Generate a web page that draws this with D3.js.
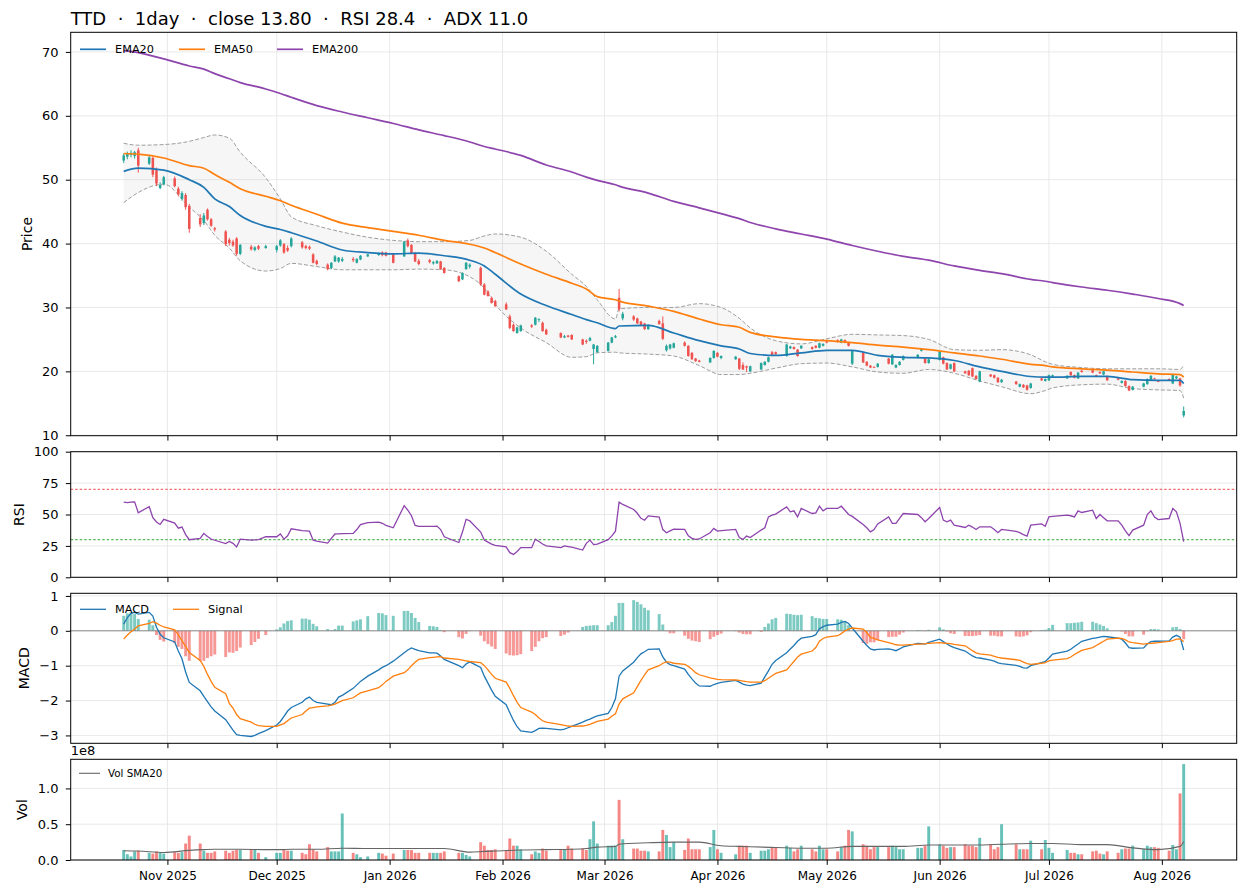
<!DOCTYPE html>
<html>
<head>
<meta charset="utf-8">
<script src="https://cdn.jsdelivr.net/npm/d3@7"></script>
<style>
    body { margin: 0; background: #ffffff; }
</style>
</head>
<body>
<div id="chart"></div>
<script>
// ---------- daily bars ----------
const dates = [
    "2025-10-20","2025-10-21","2025-10-22","2025-10-23","2025-10-24","2025-10-27","2025-10-28","2025-10-29","2025-10-30","2025-10-31",
    "2025-11-03","2025-11-04","2025-11-05","2025-11-06","2025-11-07","2025-11-10","2025-11-11","2025-11-12","2025-11-13","2025-11-14",
    "2025-11-17","2025-11-18","2025-11-19","2025-11-20","2025-11-21","2025-11-24","2025-11-25","2025-11-26","2025-11-28",
    "2025-12-01","2025-12-02","2025-12-03","2025-12-04","2025-12-05","2025-12-08","2025-12-09","2025-12-10","2025-12-11","2025-12-12",
    "2025-12-15","2025-12-16","2025-12-17","2025-12-18","2025-12-19","2025-12-22","2025-12-23","2025-12-24","2025-12-26","2025-12-29","2025-12-30","2025-12-31",
    "2026-01-02","2026-01-05","2026-01-06","2026-01-07","2026-01-08","2026-01-09","2026-01-12","2026-01-13","2026-01-14","2026-01-15",
    "2026-01-16","2026-01-20","2026-01-21","2026-01-22","2026-01-23","2026-01-26","2026-01-27","2026-01-28","2026-01-29","2026-01-30",
    "2026-02-02","2026-02-03","2026-02-04","2026-02-05","2026-02-06","2026-02-09","2026-02-10","2026-02-11","2026-02-12","2026-02-13",
    "2026-02-17","2026-02-18","2026-02-19","2026-02-20","2026-02-23","2026-02-24","2026-02-25","2026-02-26","2026-02-27",
    "2026-03-02","2026-03-03","2026-03-04","2026-03-05","2026-03-06","2026-03-09","2026-03-10","2026-03-11","2026-03-12","2026-03-13",
    "2026-03-16","2026-03-17","2026-03-18","2026-03-19","2026-03-20","2026-03-23","2026-03-24","2026-03-25","2026-03-26","2026-03-27","2026-03-30","2026-03-31",
    "2026-04-01","2026-04-02","2026-04-06","2026-04-07","2026-04-08","2026-04-09","2026-04-10","2026-04-13","2026-04-14","2026-04-15",
    "2026-04-16","2026-04-17","2026-04-20","2026-04-21","2026-04-22","2026-04-23","2026-04-24","2026-04-27","2026-04-28","2026-04-29","2026-04-30",
    "2026-05-01","2026-05-04","2026-05-05","2026-05-06","2026-05-07","2026-05-08","2026-05-11","2026-05-12","2026-05-13","2026-05-14",
    "2026-05-15","2026-05-18","2026-05-19","2026-05-20","2026-05-21","2026-05-22","2026-05-26","2026-05-27","2026-05-28","2026-05-29",
    "2026-06-01","2026-06-02","2026-06-03","2026-06-04","2026-06-05","2026-06-08","2026-06-09","2026-06-10","2026-06-11","2026-06-12",
    "2026-06-15","2026-06-16","2026-06-17","2026-06-18","2026-06-22","2026-06-23","2026-06-24","2026-06-25","2026-06-26","2026-06-29","2026-06-30",
    "2026-07-01","2026-07-02","2026-07-06","2026-07-07","2026-07-08","2026-07-09","2026-07-10","2026-07-13","2026-07-14","2026-07-15",
    "2026-07-16","2026-07-17","2026-07-20","2026-07-21","2026-07-22","2026-07-23","2026-07-24","2026-07-27","2026-07-28","2026-07-29","2026-07-30","2026-07-31",
    "2026-08-03","2026-08-04","2026-08-05","2026-08-06","2026-08-07"
];

const opens = [
    53.0,53.6,53.9,53.7,54.6,52.5,53.4,51.5,48.7,49.3,
    50.2,48.6,47.0,47.6,45.9,44.0,43.2,45.3,43.8,42.4,41.9,40.6,40.3,40.8,38.4,39.5,39.0,39.6,39.3,
    39.0,39.7,39.9,39.3,39.6,40.2,39.6,39.5,38.3,37.3,36.7,36.2,37.2,37.2,37.3,37.6,37.0,37.5,38.0,38.2,38.6,38.6,
    38.3,38.0,40.5,39.8,38.5,37.3,37.4,36.9,36.9,37.2,36.2,34.9,34.4,36.0,36.4,36.2,33.6,32.5,31.5,31.0,
    30.5,28.6,27.3,26.0,26.3,27.2,27.3,28.1,27.6,26.5,26.0,25.3,25.6,25.7,25.0,24.8,24.8,23.5,23.0,
    23.2,24.5,25.3,31.5,28.3,28.6,28.3,27.8,27.5,26.6,27.9,27.5,23.3,23.6,23.7,24.5,24.0,22.9,22.0,21.7,21.4,22.1,
    22.9,22.1,21.9,22.0,21.0,20.8,20.0,20.3,21.0,21.5,23.0,23.0,22.4,23.6,23.8,23.4,23.6,23.8,24.0,23.7,24.0,
    24.7,24.9,24.5,24.9,24.5,21.2,22.9,21.5,20.9,20.7,20.7,22.0,21.1,20.6,21.0,21.8,22.1,23.2,22.0,21.3,
    21.8,22.2,21.3,20.4,21.3,20.0,20.1,20.5,19.3,18.4,19.5,19.4,19.0,18.3,18.4,17.6,17.9,17.8,17.4,18.9,18.5,
    18.6,19.2,18.9,19.9,19.4,18.9,20.1,20.2,19.4,19.9,19.5,19.2,18.9,18.2,18.5,17.7,17.1,17.6,18.0,18.6,18.9,18.5,
    18.8,18.1,18.9,18.9,13.1
];

const highs = [
    54.1,54.4,54.6,54.5,55.0,53.8,53.6,51.9,49.6,50.6,
    50.5,48.9,48.2,47.9,46.2,44.6,44.8,45.5,44.0,42.6,42.1,40.9,40.6,41.0,39.9,39.8,39.6,39.8,39.8,
    39.8,40.7,40.1,39.7,41.0,40.4,39.8,39.7,38.5,37.5,36.9,37.1,38.2,37.9,37.9,37.9,37.7,38.2,38.4,38.6,38.8,38.7,
    38.5,40.4,40.8,39.9,38.7,37.6,37.6,37.3,37.4,37.3,36.3,35.0,35.5,37.1,36.9,36.4,33.8,32.7,31.7,31.2,
    30.8,28.9,27.5,27.0,27.3,27.4,28.5,28.3,27.8,26.7,26.1,25.7,25.7,25.8,25.1,25.0,25.4,24.3,24.1,
    24.6,25.4,25.7,32.9,29.3,28.8,28.4,27.9,27.6,27.4,28.1,28.6,24.2,24.3,24.5,24.7,24.1,23.0,22.1,21.8,22.2,23.3,
    23.0,22.5,22.4,22.1,21.4,20.9,20.9,21.4,21.6,22.3,23.2,23.1,24.3,24.0,23.9,23.5,24.1,23.9,24.1,24.5,24.4,
    24.8,25.0,25.1,25.0,24.6,23.3,23.0,21.6,21.0,20.8,21.3,22.1,22.7,21.1,21.6,22.5,22.7,23.6,22.1,22.0,
    23.2,22.3,21.4,21.2,21.4,20.1,20.2,20.6,19.4,20.1,19.6,19.5,19.1,18.8,18.5,18.1,18.0,17.9,18.2,19.0,18.9,
    19.5,19.5,19.4,20.0,19.5,19.9,20.2,20.3,19.5,20.0,20.1,19.3,19.0,18.6,18.6,17.8,17.7,18.2,18.9,19.4,19.0,18.6,
    18.9,19.6,19.3,19.0,14.5
];

const lows = [
    52.6,53.2,53.5,53.3,51.1,52.3,50.4,49.0,48.5,49.1,
    48.8,47.4,46.7,45.3,41.7,42.6,42.9,43.6,42.6,41.9,39.6,39.7,39.5,38.1,38.2,38.9,38.8,39.0,39.2,
    38.6,39.5,38.4,38.7,39.4,39.2,39.1,39.0,36.9,36.6,35.8,36.0,37.1,37.0,37.1,37.1,36.9,37.4,37.9,38.1,38.0,38.0,
    36.9,37.9,39.4,38.4,37.1,36.6,36.9,36.7,36.8,35.9,35.3,34.0,34.3,35.9,36.1,33.4,31.9,31.7,30.6,30.1,
    29.6,26.6,26.2,25.9,26.2,26.8,27.2,27.7,26.2,25.7,25.2,25.2,25.3,24.9,24.1,24.3,24.7,21.1,22.9,
    23.1,24.4,25.2,29.4,28.0,27.9,27.4,27.1,26.5,26.5,27.3,24.9,23.1,23.4,23.6,23.9,22.3,21.8,21.5,21.4,21.3,22.0,
    22.2,21.9,21.8,20.2,20.2,19.9,19.9,20.2,20.9,21.4,22.5,22.6,22.3,23.5,23.4,22.3,23.5,23.4,23.6,23.6,23.9,
    24.4,24.5,24.4,24.4,23.9,21.0,21.3,20.8,20.5,20.5,20.6,21.1,21.0,20.5,20.9,21.7,22.0,23.1,21.2,21.2,
    21.7,21.1,20.2,20.3,19.9,19.6,19.3,19.1,18.7,18.3,19.1,18.9,18.2,18.2,17.9,17.5,17.4,17.0,17.3,18.5,18.4,
    18.5,19.1,18.8,19.3,18.9,18.8,19.8,19.7,19.1,19.6,19.4,18.5,18.6,18.1,17.6,16.9,17.0,17.5,17.9,18.5,18.7,18.3,
    18.5,18.0,18.8,17.6,12.8
];

const closes = [
    53.8,54.1,54.2,54.3,52.2,53.5,50.8,49.4,49.2,50.4,
    49.0,47.7,47.9,45.7,42.3,43.0,44.4,43.8,42.8,42.2,39.9,40.1,39.7,38.4,39.8,39.1,39.4,39.2,39.6,
    39.6,40.5,38.6,38.9,40.8,39.4,39.3,39.2,37.0,36.8,36.0,37.0,38.0,37.8,37.6,37.4,37.6,38.1,38.3,38.5,38.2,38.1,
    37.0,40.3,39.6,38.5,37.2,36.8,37.1,37.1,37.3,36.0,35.4,34.1,35.4,37.0,36.7,33.6,32.0,31.8,30.7,30.2,
    29.7,26.8,26.3,26.9,27.2,27.0,28.4,28.2,26.3,25.8,25.3,25.5,25.4,25.0,24.2,24.6,25.2,24.2,24.0,
    24.5,25.3,25.5,29.7,29.0,28.1,27.5,27.2,26.6,27.2,27.4,25.1,24.0,24.2,24.4,24.0,22.4,21.9,21.6,21.5,22.1,23.2,
    22.3,22.4,22.3,20.4,20.3,20.6,20.8,21.3,21.5,22.2,22.6,22.7,24.2,23.9,23.5,22.4,24.0,23.5,23.7,24.4,24.3,
    24.5,24.6,25.0,24.5,24.0,23.2,21.4,20.9,20.6,20.6,21.2,21.2,22.6,21.0,21.5,22.4,22.6,23.5,21.3,21.9,
    23.1,21.2,20.3,21.1,20.0,19.7,19.4,19.2,18.8,20.0,19.2,19.0,18.3,18.7,18.0,18.0,17.5,17.1,18.1,18.6,18.8,
    19.4,19.4,19.3,19.4,19.0,19.8,19.9,19.8,19.2,19.7,20.0,18.6,18.7,18.5,17.7,17.0,17.6,18.1,18.8,19.3,18.8,18.4,
    18.6,19.5,19.2,17.8,13.8
];

// volume in millions of shares
const volumes = [
    14,8,5,12,13,10,9,12,10,9,
    11,10,11,23,34,23,13,10,10,12,13,10,13,14,14,14,14,10,4,
    10,10,15,13,13,10,8,22,15,12,18,12,12,12,65,10,8,4,5,10,9,6,
    9,14,14,14,10,10,10,10,10,10,12,10,10,7,5,25,20,14,14,15,
    13,30,20,20,15,8,12,10,16,13,14,14,20,16,16,14,29,54,23,
    20,20,20,84,29,16,16,13,13,12,12,42,35,18,25,14,30,15,15,15,18,42,
    15,10,8,20,20,20,10,13,13,15,18,18,20,17,12,15,20,15,12,20,15,
    15,12,18,20,42,40,22,20,15,18,18,18,20,18,15,15,17,17,20,47,
    22,20,17,18,18,22,20,20,18,31,22,15,18,50,22,15,15,15,27,15,28,
    17,10,14,10,10,8,8,12,13,9,8,12,10,15,16,16,20,15,20,18,18,17,
    13,21,15,93,134
];

const rsi = [
    59.8,59.5,59.9,60.1,51.4,56.3,47.5,44.0,42.1,46.2,
    43.2,39.1,40.0,34.0,29.9,31.0,35.0,32.5,30.5,29.5,26.9,28.5,27.0,24.2,30.4,29.6,29.8,30.0,32.3,
    32.3,34.5,30.4,33.0,38.6,37.2,37.0,36.7,29.6,28.8,27.2,31.0,34.5,34.6,34.7,35.0,38.0,42.0,43.5,44.0,43.0,41.3,
    39.4,57.0,53.5,49.0,41.3,40.5,40.5,40.6,40.8,38.0,32.3,27.7,36.0,46.2,45.0,36.0,29.6,28.0,26.4,25.5,
    24.2,19.6,18.2,20.5,23.6,23.6,30.4,28.5,26.5,25.0,23.6,25.0,24.5,24.0,21.7,27.0,29.6,26.0,26.5,
    30.0,33.0,36.7,59.8,58.0,54.0,51.0,47.0,45.4,48.9,48.0,38.0,35.5,37.0,38.4,38.1,33.1,31.0,30.2,30.5,35.5,38.9,
    36.8,37.2,38.1,31.7,30.2,32.8,31.7,37.6,39.4,48.1,49.5,50.3,56.1,52.1,52.9,48.1,54.8,50.8,51.3,56.6,52.9,
    54.8,54.8,56.6,53.4,50.0,48.5,42.0,39.4,36.2,38.0,42.5,48.1,42.9,42.9,47.0,50.8,50.0,47.5,44.2,46.8,
    55.6,45.5,44.2,45.5,41.5,39.7,41.5,40.0,38.1,40.2,40.2,38.0,35.5,38.1,36.5,35.5,34.0,32.8,41.5,42.5,40.7,
    48.1,48.5,49.5,49.0,48.1,52.9,51.6,53.4,46.8,50.0,47.5,45.0,45.0,41.5,37.0,33.1,37.6,41.5,50.0,52.9,48.0,46.0,
    46.8,54.8,52.1,42.9,28.4
];

const macd = [
    0.19,0.38,0.50,0.53,0.48,0.53,0.42,0.10,-0.10,-0.20,
    -0.32,-0.58,-0.80,-1.18,-1.48,-1.72,-1.88,-2.03,-2.18,-2.30,-2.55,-2.70,-2.85,-2.98,-3.00,-3.03,-3.00,-2.95,-2.86,
    -2.70,-2.60,-2.45,-2.30,-2.20,-2.05,-1.95,-1.90,-2.00,-2.05,-2.10,-2.12,-2.05,-1.90,-1.85,-1.65,-1.55,-1.45,-1.30,-1.12,-1.05,-1.00,
    -0.87,-0.63,-0.55,-0.49,-0.53,-0.57,-0.63,-0.63,-0.64,-0.72,-0.82,-1.00,-1.06,-0.95,-0.89,-1.05,-1.30,-1.50,-1.70,-1.88,
    -2.12,-2.35,-2.57,-2.75,-2.87,-2.91,-2.86,-2.80,-2.79,-2.80,-2.84,-2.82,-2.78,-2.74,-2.62,-2.57,-2.53,-2.48,-2.44,
    -2.37,-2.20,-1.95,-1.30,-1.15,-0.90,-0.77,-0.66,-0.60,-0.53,-0.52,-0.75,-0.90,-0.97,-1.00,-1.10,-1.25,-1.38,-1.50,-1.58,-1.59,-1.54,
    -1.51,-1.48,-1.42,-1.47,-1.53,-1.56,-1.57,-1.50,-1.32,-1.15,-0.96,-0.85,-0.63,-0.52,-0.42,-0.30,-0.21,-0.16,-0.11,0.06,0.12,
    0.16,0.19,0.24,0.27,0.21,0.08,-0.30,-0.42,-0.52,-0.55,-0.53,-0.52,-0.54,-0.57,-0.52,-0.46,-0.36,-0.37,-0.38,-0.33,
    -0.24,-0.31,-0.38,-0.44,-0.48,-0.58,-0.65,-0.72,-0.77,-0.78,-0.84,-0.87,-0.92,-0.94,-0.99,-1.02,-1.06,-1.07,-1.00,-0.91,-0.88,
    -0.78,-0.67,-0.58,-0.53,-0.45,-0.38,-0.30,-0.22,-0.20,-0.18,-0.16,-0.17,-0.21,-0.24,-0.35,-0.48,-0.50,-0.49,-0.38,-0.31,-0.30,-0.30,
    -0.29,-0.18,-0.13,-0.18,-0.55
];

const macdSignal = [
    -0.24,-0.12,-0.03,0.05,0.14,0.21,0.26,0.22,0.16,0.11,
    0.03,-0.12,-0.28,-0.45,-0.62,-0.85,-1.02,-1.25,-1.45,-1.62,-1.80,-2.08,-2.22,-2.40,-2.52,-2.62,-2.68,-2.72,-2.74,
    -2.74,-2.70,-2.66,-2.58,-2.50,-2.40,-2.30,-2.22,-2.20,-2.18,-2.15,-2.13,-2.10,-2.05,-2.00,-1.92,-1.85,-1.78,-1.72,-1.63,-1.55,-1.45,
    -1.30,-1.20,-1.12,-1.00,-0.90,-0.82,-0.77,-0.76,-0.75,-0.74,-0.78,-0.82,-0.84,-0.86,-0.88,-0.91,-1.00,-1.12,-1.25,-1.36,
    -1.47,-1.65,-1.86,-2.05,-2.20,-2.33,-2.40,-2.50,-2.58,-2.62,-2.69,-2.71,-2.73,-2.74,-2.73,-2.71,-2.68,-2.64,-2.60,
    -2.53,-2.45,-2.38,-2.10,-1.95,-1.78,-1.60,-1.42,-1.26,-1.12,-1.00,-0.93,-0.89,-0.90,-0.93,-0.96,-1.02,-1.10,-1.20,-1.26,-1.35,-1.37,
    -1.39,-1.40,-1.41,-1.42,-1.44,-1.46,-1.47,-1.47,-1.43,-1.36,-1.29,-1.22,-1.12,-1.00,-0.88,-0.75,-0.67,-0.58,-0.48,-0.30,-0.22,
    -0.18,-0.14,-0.08,0.00,0.05,0.08,0.05,-0.05,-0.19,-0.22,-0.26,-0.34,-0.37,-0.40,-0.41,-0.41,-0.38,-0.38,-0.37,-0.36,
    -0.34,-0.35,-0.36,-0.37,-0.39,-0.43,-0.50,-0.57,-0.63,-0.66,-0.70,-0.73,-0.76,-0.78,-0.83,-0.85,-0.90,-0.94,-0.96,-0.93,-0.91,
    -0.86,-0.84,-0.80,-0.75,-0.68,-0.62,-0.56,-0.48,-0.42,-0.36,-0.30,-0.24,-0.21,-0.22,-0.26,-0.32,-0.34,-0.38,-0.37,-0.36,-0.35,-0.34,
    -0.30,-0.28,-0.24,-0.23,-0.31
];

const macdHist = [
    0.43,0.50,0.53,0.48,0.34,0.32,0.16,-0.12,-0.26,-0.31,
    -0.35,-0.46,-0.52,-0.73,-0.86,-0.87,-0.86,-0.78,-0.73,-0.68,-0.75,-0.62,-0.63,-0.58,-0.48,-0.41,-0.32,-0.23,-0.12,
    0.04,0.10,0.21,0.28,0.30,0.35,0.35,0.32,0.20,0.13,0.05,0.01,0.05,0.15,0.15,0.27,0.30,0.33,0.42,0.51,0.50,0.45,
    0.43,0.57,0.57,0.51,0.37,0.25,0.14,0.13,0.11,0.02,-0.04,-0.18,-0.22,-0.09,-0.01,-0.14,-0.30,-0.38,-0.45,-0.52,
    -0.65,-0.70,-0.71,-0.70,-0.67,-0.58,-0.46,-0.30,-0.21,-0.18,-0.15,-0.11,-0.05,0.00,0.11,0.14,0.15,0.16,0.16,
    0.16,0.25,0.43,0.80,0.80,0.88,0.83,0.76,0.66,0.59,0.48,0.18,-0.01,-0.07,-0.07,-0.14,-0.23,-0.28,-0.30,-0.32,-0.24,-0.17,
    -0.12,-0.08,-0.01,-0.05,-0.09,-0.10,-0.10,-0.03,0.11,0.21,0.33,0.37,0.49,0.48,0.46,0.45,0.46,0.42,0.37,0.36,0.34,
    0.34,0.33,0.32,0.27,0.16,0.00,-0.35,-0.37,-0.33,-0.33,-0.27,-0.18,-0.17,-0.17,-0.11,-0.05,0.02,0.01,-0.01,0.03,
    0.10,0.04,-0.02,-0.07,-0.09,-0.15,-0.15,-0.15,-0.14,-0.12,-0.14,-0.14,-0.16,-0.16,-0.16,-0.17,-0.16,-0.13,-0.04,0.02,0.03,
    0.08,0.17,0.22,0.22,0.23,0.24,0.26,0.26,0.22,0.18,0.14,0.07,0.00,-0.02,-0.09,-0.16,-0.16,-0.11,-0.01,0.05,0.05,0.04,
    0.01,0.10,0.11,0.05,-0.24
];

// ---------- smoother overlays, read about once a week ----------
const lineDates = [
    "2025-10-20","2025-10-24","2025-10-31","2025-11-07","2025-11-11","2025-11-14","2025-11-18","2025-11-21","2025-11-28",
    "2025-12-02","2025-12-05","2025-12-12","2025-12-19","2025-12-26",
    "2026-01-02","2026-01-09","2026-01-16","2026-01-23","2026-01-27","2026-01-30",
    "2026-02-06","2026-02-13","2026-02-20","2026-02-24","2026-02-27",
    "2026-03-04","2026-03-05","2026-03-13","2026-03-20","2026-03-27",
    "2026-04-02","2026-04-07","2026-04-10","2026-04-17","2026-04-24",
    "2026-05-01","2026-05-08","2026-05-15","2026-05-22","2026-05-29",
    "2026-06-05","2026-06-12","2026-06-18","2026-06-26","2026-06-30",
    "2026-07-02","2026-07-10","2026-07-17","2026-07-24","2026-07-31",
    "2026-08-06","2026-08-07"
];
const ema20 = [
    51.3,51.8,51.5,50.0,48.8,47.0,45.8,44.4,42.7, 42.2,41.7,40.4,39.0,38.6,
    38.4,38.5,38.1,37.4,36.5,35.2, 32.1,30.3,28.9,28.1,27.6, 26.7,27.1,27.2,26.0,24.8,
    24.0,23.5,22.8,22.5,22.9, 23.3,23.3,22.5,22.2,22.1, 21.7,20.7,20.0,19.2,19.1,
    19.1,19.2,19.2,18.7,18.6, 18.6,18.1
];
const ema50 = [
    54.1,54.0,53.4,52.2,51.8,50.8,49.6,48.6,47.4, 46.7,46.0,44.6,43.2,42.5,
    41.9,41.3,40.5,39.9,39.3,38.6, 36.8,35.2,33.8,32.9,31.7, 31.2,31.0,30.2,29.4,28.2,
    27.3,26.9,26.1,25.4,25.0, 24.8,24.5,24.1,23.8,23.4, 22.9,22.4,21.9,21.1,20.9,
    20.7,20.4,20.2,19.9,19.6, 19.5,19.1
];
const ema200 = [
    70.2,69.9,68.9,67.8,67.3,66.6,65.8,65.2,64.2, 63.5,62.9,61.6,60.6,59.7,
    58.8,57.8,56.9,55.9,55.2,54.8, 53.8,52.3,51.2,50.4,49.9, 49.2,49.0,47.9,46.6,45.6,
    44.7,43.9,43.3,42.3,41.5, 40.7,39.7,38.8,38.0,37.4, 36.5,35.8,35.3,34.4,34.1,
    33.9,33.2,32.7,32.1,31.4, 30.6,30.3
];
const bbUpper = [
    55.7,55.4,55.5,56.0,56.6,57.0,56.5,54.3,50.3, 47.0,44.2,42.8,41.8,41.0,
    40.5,40.3,40.3,40.5,41.2,41.5, 41.0,38.8,35.2,33.3,31.2, 28.2,29.8,30.0,30.0,30.6,
    30.0,28.3,26.8,24.8,24.3, 25.1,25.8,25.7,25.6,25.0, 23.4,23.3,23.4,22.6,21.5,
    21.1,20.6,20.4,20.4,20.4, 20.3,21.0
];
const bbLower = [
    46.4,48.0,49.3,45.7,43.6,41.3,39.3,37.3,35.7, 36.1,36.9,36.4,35.9,35.9,
    35.9,36.0,35.9,34.8,33.0,30.5, 26.8,24.5,22.2,22.3,22.9, 23.0,22.9,22.7,22.4,20.9,
    19.5,19.5,19.7,20.5,21.2, 21.3,20.7,19.9,19.7,20.3, 19.7,18.5,17.6,16.5,17.0,
    17.4,17.9,18.0,17.3,17.1, 17.0,15.8
];
// 20-day volume average, millions
const volSma20 = [
    13,12.5,10.5,13.5,14.5,15,15,15,14.5, 14.5,15,15,16.5,16,
    16,16,16,11,12,12.5, 14,14.5,15,16,18, 19,22,24,25,25,
    20,19,18.5,17.5,16.5, 16.5,19,19,19,21, 21,21,22,23,23,
    23,21.5,21.5,17,14.5, 19,26
];

// ---------- axis ticks ----------
const monthTicks = ["2025-11-01","2025-12-01","2026-01-01","2026-02-01","2026-03-01","2026-04-01",
                    "2026-05-01","2026-06-01","2026-07-01","2026-08-01"];
const priceTicks = [10, 20, 30, 40, 50, 60, 70];
const rsiTicks = [0, 25, 50, 75, 100];
const macdTicks = [-3, -2, -1, 0, 1];
const volTicks = [0, 0.5e8, 1e8];

const chartTitle = "TTD  \u00b7  1day  \u00b7  close 13.80  \u00b7  RSI 28.4  \u00b7  ADX 11.0";


class TechChart {
    constructor(parent_element) {
        this.parent_element = parent_element;
        this.initVis();
    }

    initVis() {
        this.width = 1247;
        this.height = 894;
        this.left = 70.7;
        this.right = 1236.7;
        this.up = "#26a69a";
        this.down = "#ef5350";

        // panel boxes, top to bottom
        this.panels = {
            price: {top: 32.3, bottom: 435.7},
            rsi:   {top: 451.7, bottom: 577.3},
            macd:  {top: 593.3, bottom: 743.3},
            vol:   {top: 759.3, bottom: 860}
        };

        // initialize svg
        this.svg = d3.select("#" + this.parent_element)
            .append("svg")
            .attr("width", this.width)
            .attr("height", this.height)
            .attr("font-family", "DejaVu Sans, sans-serif");

        this.wrangleData();
    }

    wrangleData() {
        const parse = d3.timeParse("%Y-%m-%d");

        this.bars = dates.map((d, i) => ({
            date: parse(d),
            open: opens[i], high: highs[i], low: lows[i], close: closes[i],
            volume: volumes[i] * 1e6,
            rsi: rsi[i], macd: macd[i], signal: macdSignal[i], hist: macdHist[i]
        }));

        this.lines = lineDates.map((d, i) => ({
            date: parse(d),
            ema20: ema20[i], ema50: ema50[i], ema200: ema200[i],
            upper: bbUpper[i], lower: bbLower[i],
            volSma: volSma20[i] * 1e6
        }));

        this.months = monthTicks.map(parse);

        this.updateVis();
    }

    updateVis() {
        // shared time scale with 5% padding like matplotlib
        const first = this.bars[0].date;
        const last = this.bars[this.bars.length - 1].date;
        const pad = (last - first) * 0.05;
        this.x = d3.scaleTime()
            .domain([new Date(+first - pad), new Date(+last + pad)])
            .range([this.left, this.right]);
        this.day = this.x(d3.timeDay.offset(first, 1)) - this.x(first);

        // title
        this.svg.append("text")
            .attr("x", this.left)
            .attr("y", 25)
            .attr("font-size", "18px")
            .attr("fill", "#000")
            .style("white-space", "pre")
            .text(chartTitle);

        this.drawPrice();
        this.drawRsi();
        this.drawMacd();
        this.drawVolume();
    }

    // grid behind a panel
    drawGrid(p, y, ticks) {
        const g = this.svg.append("g").attr("class", "grid");
        g.selectAll(".vg").data(this.months).enter().append("line")
            .attr("x1", d => this.x(d)).attr("x2", d => this.x(d))
            .attr("y1", p.top).attr("y2", p.bottom)
            .attr("stroke", "#e3e3e3").attr("stroke-width", 0.8);
        g.selectAll(".hg").data(ticks).enter().append("line")
            .attr("x1", this.left).attr("x2", this.right)
            .attr("y1", d => y(d)).attr("y2", d => y(d))
            .attr("stroke", "#e3e3e3").attr("stroke-width", 0.8);
    }

    // frame, ticks and y label on top of a panel
    drawFrame(p, y, ticks, fmt, label, labelX, showDates) {
        this.svg.append("rect")
            .attr("x", this.left).attr("y", p.top)
            .attr("width", this.right - this.left)
            .attr("height", p.bottom - p.top)
            .attr("fill", "none")
            .attr("stroke", "#000")
            .attr("stroke-width", 1);

        const yAxis = this.svg.append("g")
            .attr("transform", "translate(" + this.left + ",0)")
            .call(d3.axisLeft(y).tickValues(ticks).tickFormat(fmt).tickSize(4.9).tickPadding(7.3));
        yAxis.select(".domain").remove();
        yAxis.attr("font-family", null).attr("font-size", null);
        yAxis.selectAll("text").attr("font-size", "13px").attr("fill", "#000");

        const xAxis = this.svg.append("g")
            .attr("transform", "translate(0," + p.bottom + ")")
            .call(d3.axisBottom(this.x).tickValues(this.months).tickSize(4.9)
                .tickFormat(showDates ? d3.timeFormat("%b %Y") : ""));
        xAxis.select(".domain").remove();
        xAxis.attr("font-family", null).attr("font-size", null);
        xAxis.selectAll("text")
            .attr("font-size", "12px")
            .attr("fill", "#000")
            .attr("y", 20)
            .attr("dy", null);

        this.svg.append("text")
            .attr("transform", "translate(" + labelX + "," + ((p.top + p.bottom) / 2) + ") rotate(-90)")
            .attr("text-anchor", "middle")
            .attr("font-size", "14px")
            .attr("fill", "#000")
            .text(label);
    }

    legend(items, y0, fontSize, lineLen) {
        const g = this.svg.append("g");
        items.forEach(it => {
            g.append("line")
                .attr("x1", it.x).attr("x2", it.x + lineLen)
                .attr("y1", y0).attr("y2", y0)
                .attr("stroke", it.color).attr("stroke-width", it.width || 1.7);
            g.append("text")
                .attr("x", it.x + lineLen + (it.gap || 9))
                .attr("y", y0)
                .attr("dy", "0.35em")
                .attr("font-size", fontSize)
                .attr("fill", "#000")
                .text(it.label);
        });
    }

    drawPrice() {
        const p = this.panels.price;
        const lo = Math.min(d3.min(lows), d3.min(bbLower));
        const hi = Math.max(d3.max(highs), d3.max(ema200), d3.max(bbUpper));
        const padY = (hi - lo) * 0.05;
        const y = d3.scaleLinear().domain([lo - padY, hi + padY]).range([p.bottom, p.top]);

        this.drawGrid(p, y, priceTicks);

        // bollinger band
        this.svg.append("path")
            .datum(this.lines)
            .attr("fill", "#8c8c8c")
            .attr("fill-opacity", 0.08)
            .attr("d", d3.area().curve(d3.curveMonotoneX)
                .x(d => this.x(d.date)).y0(d => y(d.lower)).y1(d => y(d.upper)));
        ["upper", "lower"].forEach(k => {
            this.svg.append("path")
                .datum(this.lines)
                .attr("fill", "none")
                .attr("stroke", "#9e9e9e")
                .attr("stroke-width", 1)
                .attr("stroke-dasharray", "4,2")
                .attr("d", d3.line().curve(d3.curveMonotoneX)
                    .x(d => this.x(d.date)).y(d => y(d[k])));
        });

        // candles
        const candles = this.svg.append("g").selectAll("g")
            .data(this.bars).enter().append("g");
        candles.append("line")
            .attr("x1", d => this.x(d.date)).attr("x2", d => this.x(d.date))
            .attr("y1", d => y(d.high)).attr("y2", d => y(d.low))
            .attr("stroke", d => d.close >= d.open ? this.up : this.down)
            .attr("stroke-width", 1);
        candles.append("rect")
            .attr("x", d => this.x(d.date) - this.day * 0.35)
            .attr("width", this.day * 0.7)
            .attr("y", d => y(Math.max(d.open, d.close)))
            .attr("height", d => Math.max(0.8, Math.abs(y(d.open) - y(d.close))))
            .attr("fill", d => d.close >= d.open ? this.up : this.down);

        // moving averages
        const emas = [
            {key: "ema20", color: "#1f77b4", label: "EMA20", x: 80},
            {key: "ema50", color: "#ff7f0e", label: "EMA50", x: 179},
            {key: "ema200", color: "#8e44ad", label: "EMA200", x: 277}
        ];
        emas.forEach(e => {
            this.svg.append("path")
                .datum(this.lines)
                .attr("fill", "none")
                .attr("stroke", e.color)
                .attr("stroke-width", 1.7)
                .attr("d", d3.line().curve(d3.curveMonotoneX)
                    .x(d => this.x(d.date)).y(d => y(d[e.key])));
        });

        this.legend(emas, 49.3, "11.3px", 26);
        this.drawFrame(p, y, priceTicks, d3.format("d"), "Price", 32, false);
    }

    drawRsi() {
        const p = this.panels.rsi;
        const y = d3.scaleLinear().domain([0, 100]).range([p.bottom, p.top]);

        this.drawGrid(p, y, rsiTicks);

        // overbought / oversold guides
        [{v: 70, c: "#f07070"}, {v: 30, c: "#5cb85c"}].forEach(l => {
            this.svg.append("line")
                .attr("x1", this.left).attr("x2", this.right)
                .attr("y1", y(l.v)).attr("y2", y(l.v))
                .attr("stroke", l.c)
                .attr("stroke-width", 1.1)
                .attr("stroke-dasharray", "2.5,2");
        });

        this.svg.append("path")
            .datum(this.bars)
            .attr("fill", "none")
            .attr("stroke", "#8e44ad")
            .attr("stroke-width", 1.3)
            .attr("d", d3.line().x(d => this.x(d.date)).y(d => y(d.rsi)));

        this.drawFrame(p, y, rsiTicks, d3.format("d"), "RSI", 23.5, false);
    }

    drawMacd() {
        const p = this.panels.macd;
        const lo = d3.min([d3.min(macd), d3.min(macdSignal), d3.min(macdHist)]);
        const hi = d3.max([d3.max(macd), d3.max(macdSignal), d3.max(macdHist)]);
        const padY = (hi - lo) * 0.05;
        const y = d3.scaleLinear().domain([lo - padY, hi + padY]).range([p.bottom, p.top]);

        this.drawGrid(p, y, macdTicks);

        // histogram
        this.svg.append("g").selectAll("rect")
            .data(this.bars).enter().append("rect")
            .attr("x", d => this.x(d.date) - this.day * 0.4)
            .attr("width", this.day * 0.8)
            .attr("y", d => y(Math.max(0, d.hist)))
            .attr("height", d => Math.abs(y(d.hist) - y(0)))
            .attr("fill", d => d.hist >= 0 ? this.up : this.down)
            .attr("fill-opacity", 0.6);

        // zero line
        this.svg.append("line")
            .attr("x1", this.left).attr("x2", this.right)
            .attr("y1", y(0)).attr("y2", y(0))
            .attr("stroke", "#7f7f7f").attr("stroke-width", 0.9);

        const series = [
            {key: "macd", color: "#1f77b4", label: "MACD", x: 80, width: 1.3},
            {key: "signal", color: "#ff7f0e", label: "Signal", x: 173, width: 1.3}
        ];
        series.forEach(s => {
            this.svg.append("path")
                .datum(this.bars)
                .attr("fill", "none")
                .attr("stroke", s.color)
                .attr("stroke-width", 1.3)
                .attr("d", d3.line().x(d => this.x(d.date)).y(d => y(d[s.key])));
        });

        this.legend(series, 609.3, "11.3px", 26);
        this.drawFrame(p, y, macdTicks, d3.format("d"), "MACD", 28.5, false);
    }

    drawVolume() {
        const p = this.panels.vol;
        const y = d3.scaleLinear()
            .domain([0, d3.max(this.bars, d => d.volume) * 1.05])
            .range([p.bottom, p.top]);

        this.drawGrid(p, y, volTicks);

        this.svg.append("g").selectAll("rect")
            .data(this.bars).enter().append("rect")
            .attr("x", d => this.x(d.date) - this.day * 0.4)
            .attr("width", this.day * 0.8)
            .attr("y", d => y(d.volume))
            .attr("height", d => y(0) - y(d.volume))
            .attr("fill", d => d.close >= d.open ? this.up : this.down)
            .attr("fill-opacity", 0.7);

        this.svg.append("path")
            .datum(this.lines)
            .attr("fill", "none")
            .attr("stroke", "#666666")
            .attr("stroke-width", 1.1)
            .attr("d", d3.line().curve(d3.curveMonotoneX)
                .x(d => this.x(d.date)).y(d => y(d.volSma)));

        this.legend([{color: "#666666", label: "Vol SMA20", x: 79, width: 1.1, gap: 8}], 773.3, "10.3px", 21);

        // scale offset like matplotlib
        this.svg.append("text")
            .attr("x", this.left)
            .attr("y", 755)
            .attr("font-size", "13px")
            .attr("fill", "#000")
            .text("1e8");

        this.drawFrame(p, y, volTicks, d => d3.format(".1f")(d / 1e8), "Vol", 26.5, true);
    }
}

const chart = new TechChart("chart");
</script>
</body>
</html>
